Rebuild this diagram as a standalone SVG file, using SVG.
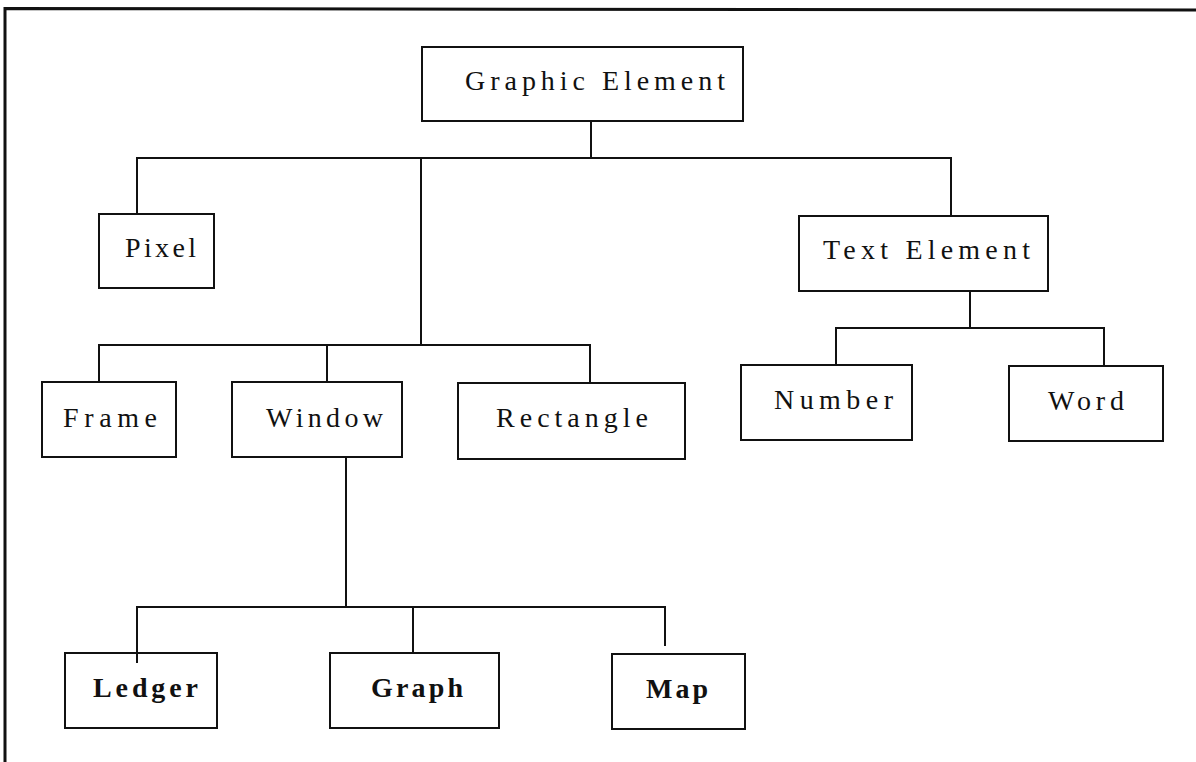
<svg xmlns="http://www.w3.org/2000/svg" width="1196" height="762" viewBox="0 0 1196 762">
<style>
.box{fill:#fff;stroke:#111;stroke-width:2}
.lbl{font-family:"Liberation Serif","Times New Roman",serif;font-size:28px;fill:#111}
.b{font-weight:bold}
.wire{fill:none;stroke:#111;stroke-width:2}
</style>
<rect width="1196" height="762" fill="#fff"/>
<path d="M5,762 V8.5 L1196,10" fill="none" stroke="#111" stroke-width="3"/>
<g id="connectors" class="wire">
<path d="M591,121 V158"/>
<path d="M137,214 V158 H951 V216"/>
<path d="M421,158 V345"/>
<path d="M99,382 V345 H590 V383"/>
<path d="M327,345 V382"/>
<path d="M970,291 V328"/>
<path d="M836,365 V328 H1104 V366"/>
<path d="M346,457 V607"/>
<path d="M137,663 V607 H665 V646"/>
<path d="M413,607 V653"/>
</g>
<g id="graphic-element"><rect class="box" x="422" y="47" width="321" height="74"/><text class="lbl" x="465" y="90" textLength="260" lengthAdjust="spacing">Graphic Element</text></g>
<g id="pixel"><rect class="box" x="99" y="214" width="115" height="74"/><text class="lbl" x="125" y="257" textLength="71" lengthAdjust="spacing">Pixel</text></g>
<g id="text-element"><rect class="box" x="799" y="216" width="249" height="75"/><text class="lbl" x="823" y="259" textLength="207" lengthAdjust="spacing">Text Element</text></g>
<g id="frame"><rect class="box" x="42" y="382" width="134" height="75"/><text class="lbl" x="63" y="427" textLength="94" lengthAdjust="spacing">Frame</text></g>
<g id="window"><rect class="box" x="232" y="382" width="170" height="75"/><text class="lbl" x="266" y="427" textLength="117" lengthAdjust="spacing">Window</text></g>
<g id="rectangle"><rect class="box" x="458" y="383" width="227" height="76"/><text class="lbl" x="496" y="427" textLength="152" lengthAdjust="spacing">Rectangle</text></g>
<g id="number"><rect class="box" x="741" y="365" width="171" height="75"/><text class="lbl" x="774" y="409" textLength="119" lengthAdjust="spacing">Number</text></g>
<g id="word"><rect class="box" x="1009" y="366" width="154" height="75"/><text class="lbl" x="1048" y="410" textLength="76" lengthAdjust="spacing">Word</text></g>
<g id="ledger"><rect class="box" x="65" y="653" width="152" height="75"/><text class="lbl b" x="93" y="697" textLength="105" lengthAdjust="spacing">Ledger</text></g>
<g id="graph"><rect class="box" x="330" y="653" width="169" height="75"/><text class="lbl b" x="371" y="697" textLength="92" lengthAdjust="spacing">Graph</text></g>
<g id="map"><rect class="box" x="612" y="654" width="133" height="75"/><text class="lbl b" x="646" y="698" textLength="62" lengthAdjust="spacing">Map</text></g>
<path d="M137,653 V663" class="wire"/>
</svg>
